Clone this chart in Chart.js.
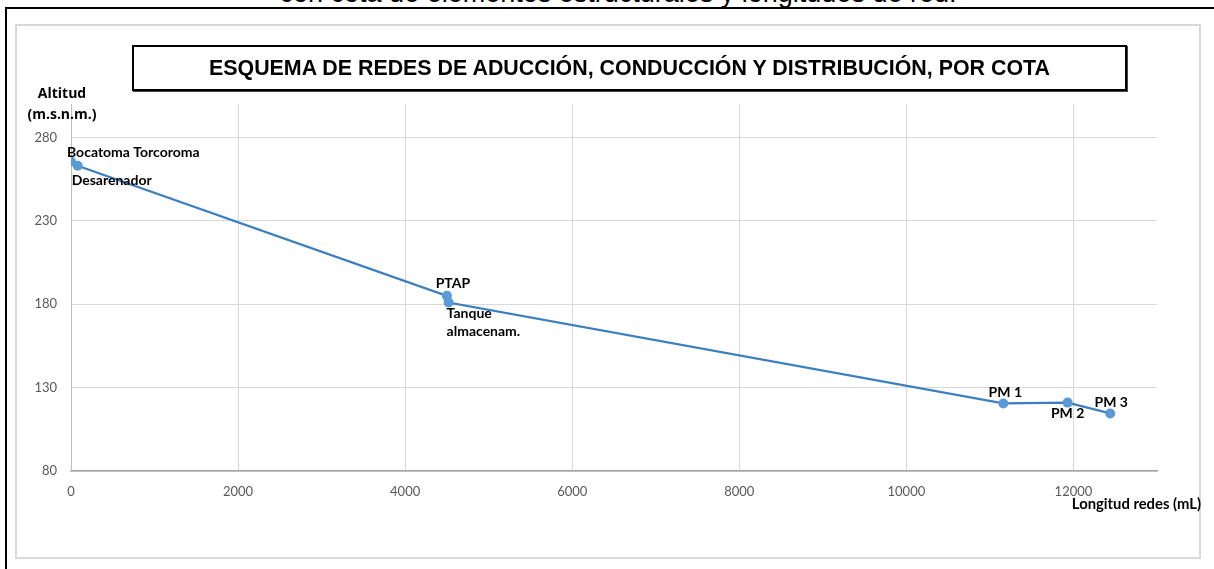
<!DOCTYPE html>
<html>
<head>
<meta charset="utf-8">
<script src="https://cdn.jsdelivr.net/npm/chart.js@4.4.0/dist/chart.umd.min.js"></script>
<style>
  html, body { margin: 0; padding: 0; background: #fff; overflow: hidden; }
  #wrap { position: relative; width: 1214px; height: 569px; }
  #chart { position: absolute; left: 0; top: 0; }
  .subtitle { position: absolute; left: 0; width: 1236px; top: -21px; text-align: center;
              font: 27px "Liberation Sans", Arial, sans-serif; color: #000; line-height: 28px; }
  .outer { position: absolute; left: 5px; top: 7px; width: 1300px; height: 700px;
           border-top: 2px solid #000; border-left: 2px solid #000; }
  .frame { position: absolute; left: 15px; top: 24px; width: 1182px; height: 531px;
           border: 2px solid #d9d9d9; }
  .titlebox { position: absolute; left: 132px; top: 45px; width: 991px; height: 42px;
              border: 2px solid #000; box-shadow: 1px 1px 0 #444;
              font: bold 21.4px "Liberation Sans", Arial, sans-serif; color: #000;
              display: flex; align-items: center; justify-content: center; }
  .ytitle { position: absolute; left: 12px; top: 82px; width: 100px; text-align: center;
            font: bold 14px "Open Sans", sans-serif; color: #000; line-height: 21px; }
  .xtitle { position: absolute; right: 13px; top: 494px;
            font: bold 14.8px Lato, sans-serif; color: #000; }
</style>
</head>
<body>
<div id="wrap">
  <div class="subtitle">con cota de elementos estructurales y longitudes de red.</div>
  <div class="outer"></div>
  <div class="frame"></div>
  <canvas id="chart" width="1214" height="569"></canvas>
  <div class="titlebox">ESQUEMA DE REDES DE ADUCCIÓN, CONDUCCIÓN Y DISTRIBUCIÓN, POR COTA</div>
  <div class="ytitle">Altitud<br>(m.s.n.m.)</div>
  <div class="xtitle">Longitud redes (mL)</div>
</div>

<script>
// --- DATA ---
const pointNames = ["Bocatoma Torcoroma", "Desarenador", "PTAP", "Tanque\nalmacenam.", "PM 1", "PM 2", "PM 3"];
const lengths = [0, 80, 4500, 4520, 11160, 11930, 12440];      // Longitud redes (mL)
const altitudes = [265.5, 263, 185, 181, 120.5, 121, 114.5];  // Altitud (m.s.n.m.)
const xTicks = [0, 2000, 4000, 6000, 8000, 10000, 12000];
const yTicks = [80, 130, 180, 230, 280];

// label placement per point: [dx, dy, align]
const labelPlacement = [
    [-4, -9, "left"],
    [-6, 15, "left"],
    [6, -12, "center"],
    [-2, 11, "left"],
    [2, -11, "center"],
    [0, 11, "center"],
    [1, -11, "center"]
];

// --- POINT LABELS PLUGIN ---
const pointLabels = {
    id: "pointLabels",
    afterDatasetsDraw(chart) {
        const ctx = chart.ctx;
        const meta = chart.getDatasetMeta(0);
        ctx.save();
        ctx.font = "bold 14px Lato, sans-serif";
        ctx.fillStyle = "#000";
        ctx.textBaseline = "middle";
        meta.data.forEach((pt, i) => {
            const [dx, dy, align] = labelPlacement[i];
            ctx.textAlign = align;
            const lines = pointNames[i].split("\n");
            lines.forEach((line, j) => {
                ctx.fillText(line, pt.x + dx, pt.y + dy + j * 18);
            });
        });
        ctx.restore();
    }
};

const ctx = document.getElementById("chart").getContext("2d");
new Chart(ctx, {
    type: "line",
    data: {
        datasets: [{
            data: lengths.map((x, i) => ({ x: x, y: altitudes[i] })),
            borderColor: "#3c7fc1",
            backgroundColor: "#5b9bd5",
            borderWidth: 2.25,
            pointRadius: 5,
            pointBorderWidth: 0,
            pointBackgroundColor: "#5b9bd5",
            tension: 0,
            fill: false
        }]
    },
    options: {
        responsive: false,
        animation: false,
        events: [],
        layout: { padding: { left: 21, right: 57, top: 104, bottom: 68 } },
        plugins: { legend: { display: false }, tooltip: { enabled: false } },
        scales: {
            x: {
                type: "linear",
                min: 0,
                max: 13000,
                afterBuildTicks: s => { s.ticks = xTicks.map(v => ({ value: v })); },
                afterFit: s => { s.height = 30; },
                grid: { color: "#d9d9d9", lineWidth: 1, drawTicks: false },
                border: { color: "#a6a6a6", width: 1.5 },
                ticks: {
                    color: "#595959", font: { family: "Lato", size: 13 }, padding: 13, maxRotation: 0,
                    callback: v => String(v)
                }
            },
            y: {
                type: "linear",
                min: 80,
                max: 300,
                afterBuildTicks: s => { s.ticks = yTicks.map(v => ({ value: v })); },
                afterFit: s => { s.width = 50; },
                grid: { color: "#d9d9d9", lineWidth: 1, drawTicks: false },
                border: { color: "#bfbfbf", width: 1 },
                ticks: { color: "#595959", font: { family: "Lato", size: 13 }, padding: 14 }
            }
        }
    },
    plugins: [pointLabels]
});
</script>
</body>
</html>
